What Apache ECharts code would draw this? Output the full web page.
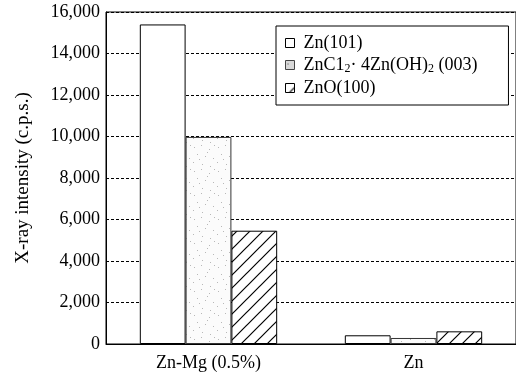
<!DOCTYPE html>
<html>
<head>
<meta charset="utf-8">
<script src="https://cdn.jsdelivr.net/npm/echarts@6/dist/echarts.min.js"></script>
<style>
  html, body { margin: 0; padding: 0; background: #fff; }
  #chart { width: 516px; height: 379px; }
</style>
</head>
<body>
<div id="chart"></div>
<script>
// samples on the x axis
var categories = ['Zn-Mg (0.5%)', 'Zn']
// X-ray intensity (c.p.s.) per peak
var zn101 = [15400, 420]
var zncl003 = [9980, 290]
var zno100 = [5460, 610]
var yTicks = [0, 2000, 4000, 6000, 8000, 10000, 12000, 14000, 16000]

var serif = '"Liberation Serif", "DejaVu Serif", serif'

// diagonal hatch "/" tile
function hatchPattern() {
  var c = document.createElement('canvas')
  c.width = 13; c.height = 13
  var g = c.getContext('2d')
  g.fillStyle = '#fff'
  g.fillRect(0, 0, 13, 13)
  g.strokeStyle = '#000'
  g.lineWidth = 1.2
  g.beginPath()
  g.moveTo(-1, 14); g.lineTo(14, -1)
  g.moveTo(-1, 1); g.lineTo(1, -1)
  g.moveTo(12, 14); g.lineTo(14, 12)
  g.stroke()
  return c
}

// light stipple tile
function dotPattern(bg, dot) {
  var c = document.createElement('canvas')
  c.width = 24; c.height = 24
  var g = c.getContext('2d')
  g.fillStyle = bg
  g.fillRect(0, 0, 24, 24)
  g.fillStyle = dot
  var dots = [[2, 3], [9, 1], [17, 5], [5, 10], [13, 12], [21, 14], [1, 18], [10, 20], [18, 22], [7, 15], [15, 8], [22, 1]]
  dots.forEach(function (d) { g.fillRect(d[0], d[1], 1, 1) })
  return c
}

var chart = echarts.init(document.getElementById('chart'))

chart.setOption({
  backgroundColor: '#fff',
  animation: false,
  grid: {
    left: 106,
    top: 12,
    width: 416,
    height: 332,
    show: true,
    borderColor: '#000',
    borderWidth: 1,
    backgroundColor: 'transparent'
  },
  legend: {
    orient: 'vertical',
    left: 276,
    top: 26,
    padding: [8, 31, 8, 9],
    itemGap: 4,
    itemWidth: 9,
    itemHeight: 9,
    icon: 'rect',
    itemStyle: { borderColor: '#000', borderWidth: 1 },
    backgroundColor: '#fff',
    borderColor: '#000',
    borderWidth: 1,
    textStyle: {
      fontFamily: serif,
      fontSize: 18,
      color: '#000',
      padding: [0, 0, 0, 4],
      rich: {
        n: { fontFamily: serif, fontSize: 18, color: '#000', lineHeight: 20 },
        s: { fontFamily: serif, fontSize: 12, color: '#000', verticalAlign: 'bottom', lineHeight: 12 }
      }
    },
    formatter: function (name) {
      if (name.indexOf('ZnC1') === 0) {
        return '{n|ZnC1}{s|2}{n|· 4Zn(OH)}{s|2}{n| (003)}'
      }
      return '{n|' + name + '}'
    },
    data: [
      'Zn(101)',
      { name: 'ZnC12· 4Zn(OH)2 (003)', itemStyle: { color: { image: dotPattern('#d8d8d8', '#555'), repeat: 'repeat' }, borderColor: '#444' } },
      'ZnO(100)'
    ]
  },
  xAxis: {
    type: 'category',
    data: categories,
    axisLine: { lineStyle: { color: '#000', width: 1 } },
    axisTick: { inside: true, length: 4, lineStyle: { color: '#000' } },
    axisLabel: { fontFamily: serif, fontSize: 18, color: '#000', margin: 10 }
  },
  yAxis: {
    type: 'value',
    min: yTicks[0],
    max: yTicks[yTicks.length - 1],
    interval: 2000,
    name: 'X-ray intensity (c.p.s.)',
    nameLocation: 'middle',
    nameGap: 73,
    nameTextStyle: { fontFamily: serif, fontSize: 19, color: '#000' },
    axisLine: { show: true, lineStyle: { color: '#000', width: 1 } },
    axisTick: { show: false },
    axisLabel: {
      fontFamily: serif, fontSize: 18, color: '#000', margin: 6,
      formatter: function (v) { return v.toLocaleString('en-US') }
    },
    splitLine: { lineStyle: { color: '#000', width: 1, type: [3, 2] } }
  },
  series: [
    {
      name: 'Zn(101)',
      type: 'bar',
      barGap: '0%',
      barCategoryGap: '33%',
      itemStyle: { color: '#fff', borderColor: '#000', borderWidth: 1 },
      data: zn101
    },
    {
      name: 'ZnC12· 4Zn(OH)2 (003)',
      type: 'bar',
      itemStyle: { color: { image: dotPattern('#fbfbfb', '#b8b8b8'), repeat: 'repeat' }, borderColor: '#333', borderWidth: 1 },
      data: zncl003
    },
    {
      name: 'ZnO(100)',
      type: 'bar',
      itemStyle: { color: { image: hatchPattern(), repeat: 'repeat' }, borderColor: '#000', borderWidth: 1 },
      data: zno100
    }
  ]
})
</script>
</body>
</html>
